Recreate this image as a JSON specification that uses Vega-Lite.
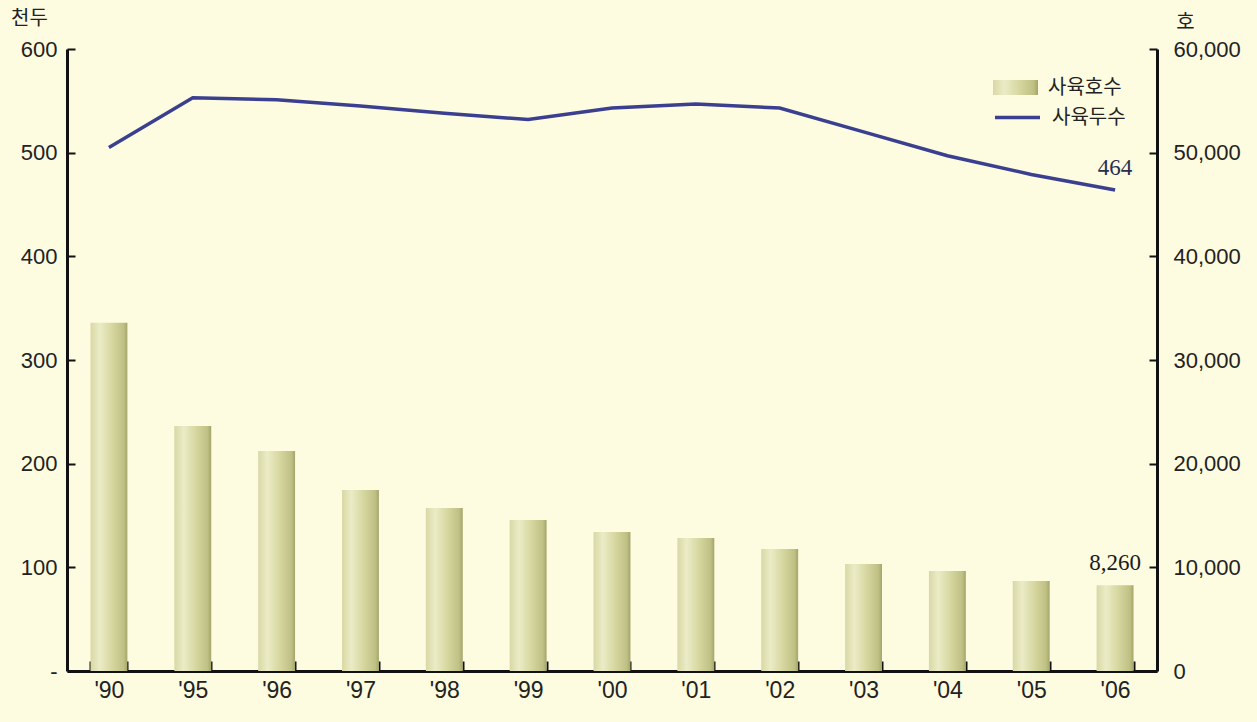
{
  "$schema": "https://vega.github.io/schema/vega-lite/v6.json",
  "width": 1090,
  "height": 622,
  "autosize": "none",
  "padding": {"left": 67, "top": 49, "right": 100, "bottom": 51},
  "background": "#fdfbe0",
  "config": {
    "view": {"stroke": null},
    "font": "Liberation Sans"
  },
  "data": {
    "values": [
      {"year": "'90", "households": 33600, "heads": 505, "s1": "사육호수", "s2": "사육두수"},
      {"year": "'95", "households": 23630, "heads": 553, "s1": "사육호수", "s2": "사육두수"},
      {"year": "'96", "households": 21220, "heads": 551, "s1": "사육호수", "s2": "사육두수"},
      {"year": "'97", "households": 17460, "heads": 545, "s1": "사육호수", "s2": "사육두수"},
      {"year": "'98", "households": 15720, "heads": 538, "s1": "사육호수", "s2": "사육두수"},
      {"year": "'99", "households": 14570, "heads": 532, "s1": "사육호수", "s2": "사육두수"},
      {"year": "'00", "households": 13410, "heads": 543, "s1": "사육호수", "s2": "사육두수"},
      {"year": "'01", "households": 12830, "heads": 547, "s1": "사육호수", "s2": "사육두수"},
      {"year": "'02", "households": 11770, "heads": 543, "s1": "사육호수", "s2": "사육두수"},
      {"year": "'03", "households": 10320, "heads": 520, "s1": "사육호수", "s2": "사육두수"},
      {"year": "'04", "households": 9650, "heads": 497, "s1": "사육호수", "s2": "사육두수"},
      {"year": "'05", "households": 8680, "heads": 479, "s1": "사육호수", "s2": "사육두수"},
      {"year": "'06", "households": 8260, "heads": 464, "s1": "사육호수", "s2": "사육두수", "hlabel": "8,260", "dlabel": "464"}
    ]
  },
  "encoding": {
    "x": {
      "field": "year",
      "type": "nominal",
      "sort": null,
      "scale": {"paddingInner": 0.56, "paddingOuter": 0.28},
      "axis": {
        "title": null,
        "labelAngle": 0,
        "labelFont": "Liberation Sans",
        "labelFontSize": 23,
        "labelColor": "#222222",
        "labelPadding": 18,
        "domainColor": "#111111",
        "domainWidth": 3,
        "tickColor": "#111111",
        "tickWidth": 2,
        "tickSize": -10,
        "tickBand": "extent"
      }
    }
  },
  "layer": [
    {
      "mark": {
        "type": "bar",
        "strokeWidth": 0,
        "fill": {
          "gradient": "linear",
          "x1": 0, "y1": 0, "x2": 1, "y2": 0,
          "stops": [
            {"offset": 0, "color": "#d8d8a6"},
            {"offset": 0.25, "color": "#ebecc6"},
            {"offset": 0.6, "color": "#d5d69e"},
            {"offset": 0.9, "color": "#bfc084"},
            {"offset": 1, "color": "#a4a56b"}
          ]
        }
      },
      "encoding": {
        "y": {
          "field": "households",
          "type": "quantitative",
          "scale": {"domain": [0, 60000]},
          "axis": {
            "orient": "right",
            "values": [0, 10000, 20000, 30000, 40000, 50000, 60000],
            "format": ",.0f",
            "grid": false,
            "title": "호",
            "titleAngle": 0,
            "titleFont": "Noto Sans CJK KR",
            "titleFontWeight": "normal",
            "titleFontSize": 20,
            "titleColor": "#222222",
            "titleX": 28,
            "titleY": -27,
            "titleAlign": "center",
            "titleBaseline": "middle",
            "labelFontSize": 22,
            "labelColor": "#222222",
            "labelPadding": 24,
            "domainColor": "#111111",
            "domainWidth": 3,
            "tickColor": "#111111",
            "tickWidth": 2,
            "tickSize": -8
          }
        },
        "opacity": {
          "field": "s1",
          "type": "ordinal",
          "scale": {"type": "ordinal", "range": [1]},
          "legend": {
            "title": null,
            "orient": "none",
            "legendX": 926,
            "legendY": 16,
            "symbolType": "M-1,-0.33H1V0.33H-1Z",
            "symbolSize": 2025,
            "symbolStrokeWidth": 0,
            "labelFont": "Noto Sans CJK KR",
            "labelFontSize": 20,
            "labelColor": "#222222",
            "labelOffset": 10,
            "encode": {
              "symbols": {
                "update": {
                  "fill": {
                    "value": {
                      "gradient": "linear",
                      "x1": 0, "y1": 0, "x2": 1, "y2": 0,
                      "stops": [
                        {"offset": 0, "color": "#d8d8a6"},
                        {"offset": 0.25, "color": "#ebecc6"},
                        {"offset": 0.6, "color": "#d5d69e"},
                        {"offset": 0.9, "color": "#bfc084"},
                        {"offset": 1, "color": "#a4a56b"}
                      ]
                    }
                  },
                  "strokeWidth": {"value": 0}
                }
              }
            }
          }
        }
      }
    },
    {
      "mark": {"type": "text", "font": "Liberation Serif", "fontSize": 23, "dy": -22, "color": "#1a1a1a"},
      "transform": [{"filter": "datum.hlabel"}],
      "encoding": {
        "y": {"field": "households", "type": "quantitative", "scale": {"domain": [0, 60000]}, "axis": null},
        "text": {"field": "hlabel"}
      }
    },
    {
      "mark": {"type": "line", "strokeWidth": 3.5},
      "encoding": {
        "y": {
          "field": "heads",
          "type": "quantitative",
          "scale": {"domain": [0, 600]},
          "axis": {
            "orient": "left",
            "values": [0, 100, 200, 300, 400, 500, 600],
            "labelExpr": "datum.value == 0 ? '-' : datum.label",
            "grid": false,
            "title": "천두",
            "titleAngle": 0,
            "titleFont": "Noto Sans CJK KR",
            "titleFontWeight": "normal",
            "titleFontSize": 20,
            "titleColor": "#222222",
            "titleX": -38,
            "titleY": -31,
            "titleAlign": "center",
            "titleBaseline": "middle",
            "labelFontSize": 22,
            "labelColor": "#222222",
            "labelPadding": 18,
            "domainColor": "#111111",
            "domainWidth": 3,
            "tickColor": "#111111",
            "tickWidth": 2,
            "tickSize": -8
          }
        },
        "stroke": {
          "field": "s2",
          "type": "nominal",
          "scale": {"range": ["#3a3f90"]},
          "legend": {
            "title": null,
            "orient": "none",
            "legendX": 926,
            "legendY": 44,
            "symbolType": "stroke",
            "symbolSize": 2025,
            "symbolStrokeWidth": 3.5,
            "labelFont": "Noto Sans CJK KR",
            "labelFontSize": 20,
            "labelColor": "#222222",
            "labelOffset": 10
          }
        }
      }
    },
    {
      "mark": {"type": "text", "font": "Liberation Serif", "fontSize": 23, "dy": -22, "color": "#2a2d50"},
      "transform": [{"filter": "datum.dlabel"}],
      "encoding": {
        "y": {"field": "heads", "type": "quantitative", "scale": {"domain": [0, 600]}, "axis": null},
        "text": {"field": "dlabel"}
      }
    }
  ],
  "resolve": {"scale": {"y": "independent"}}
}
